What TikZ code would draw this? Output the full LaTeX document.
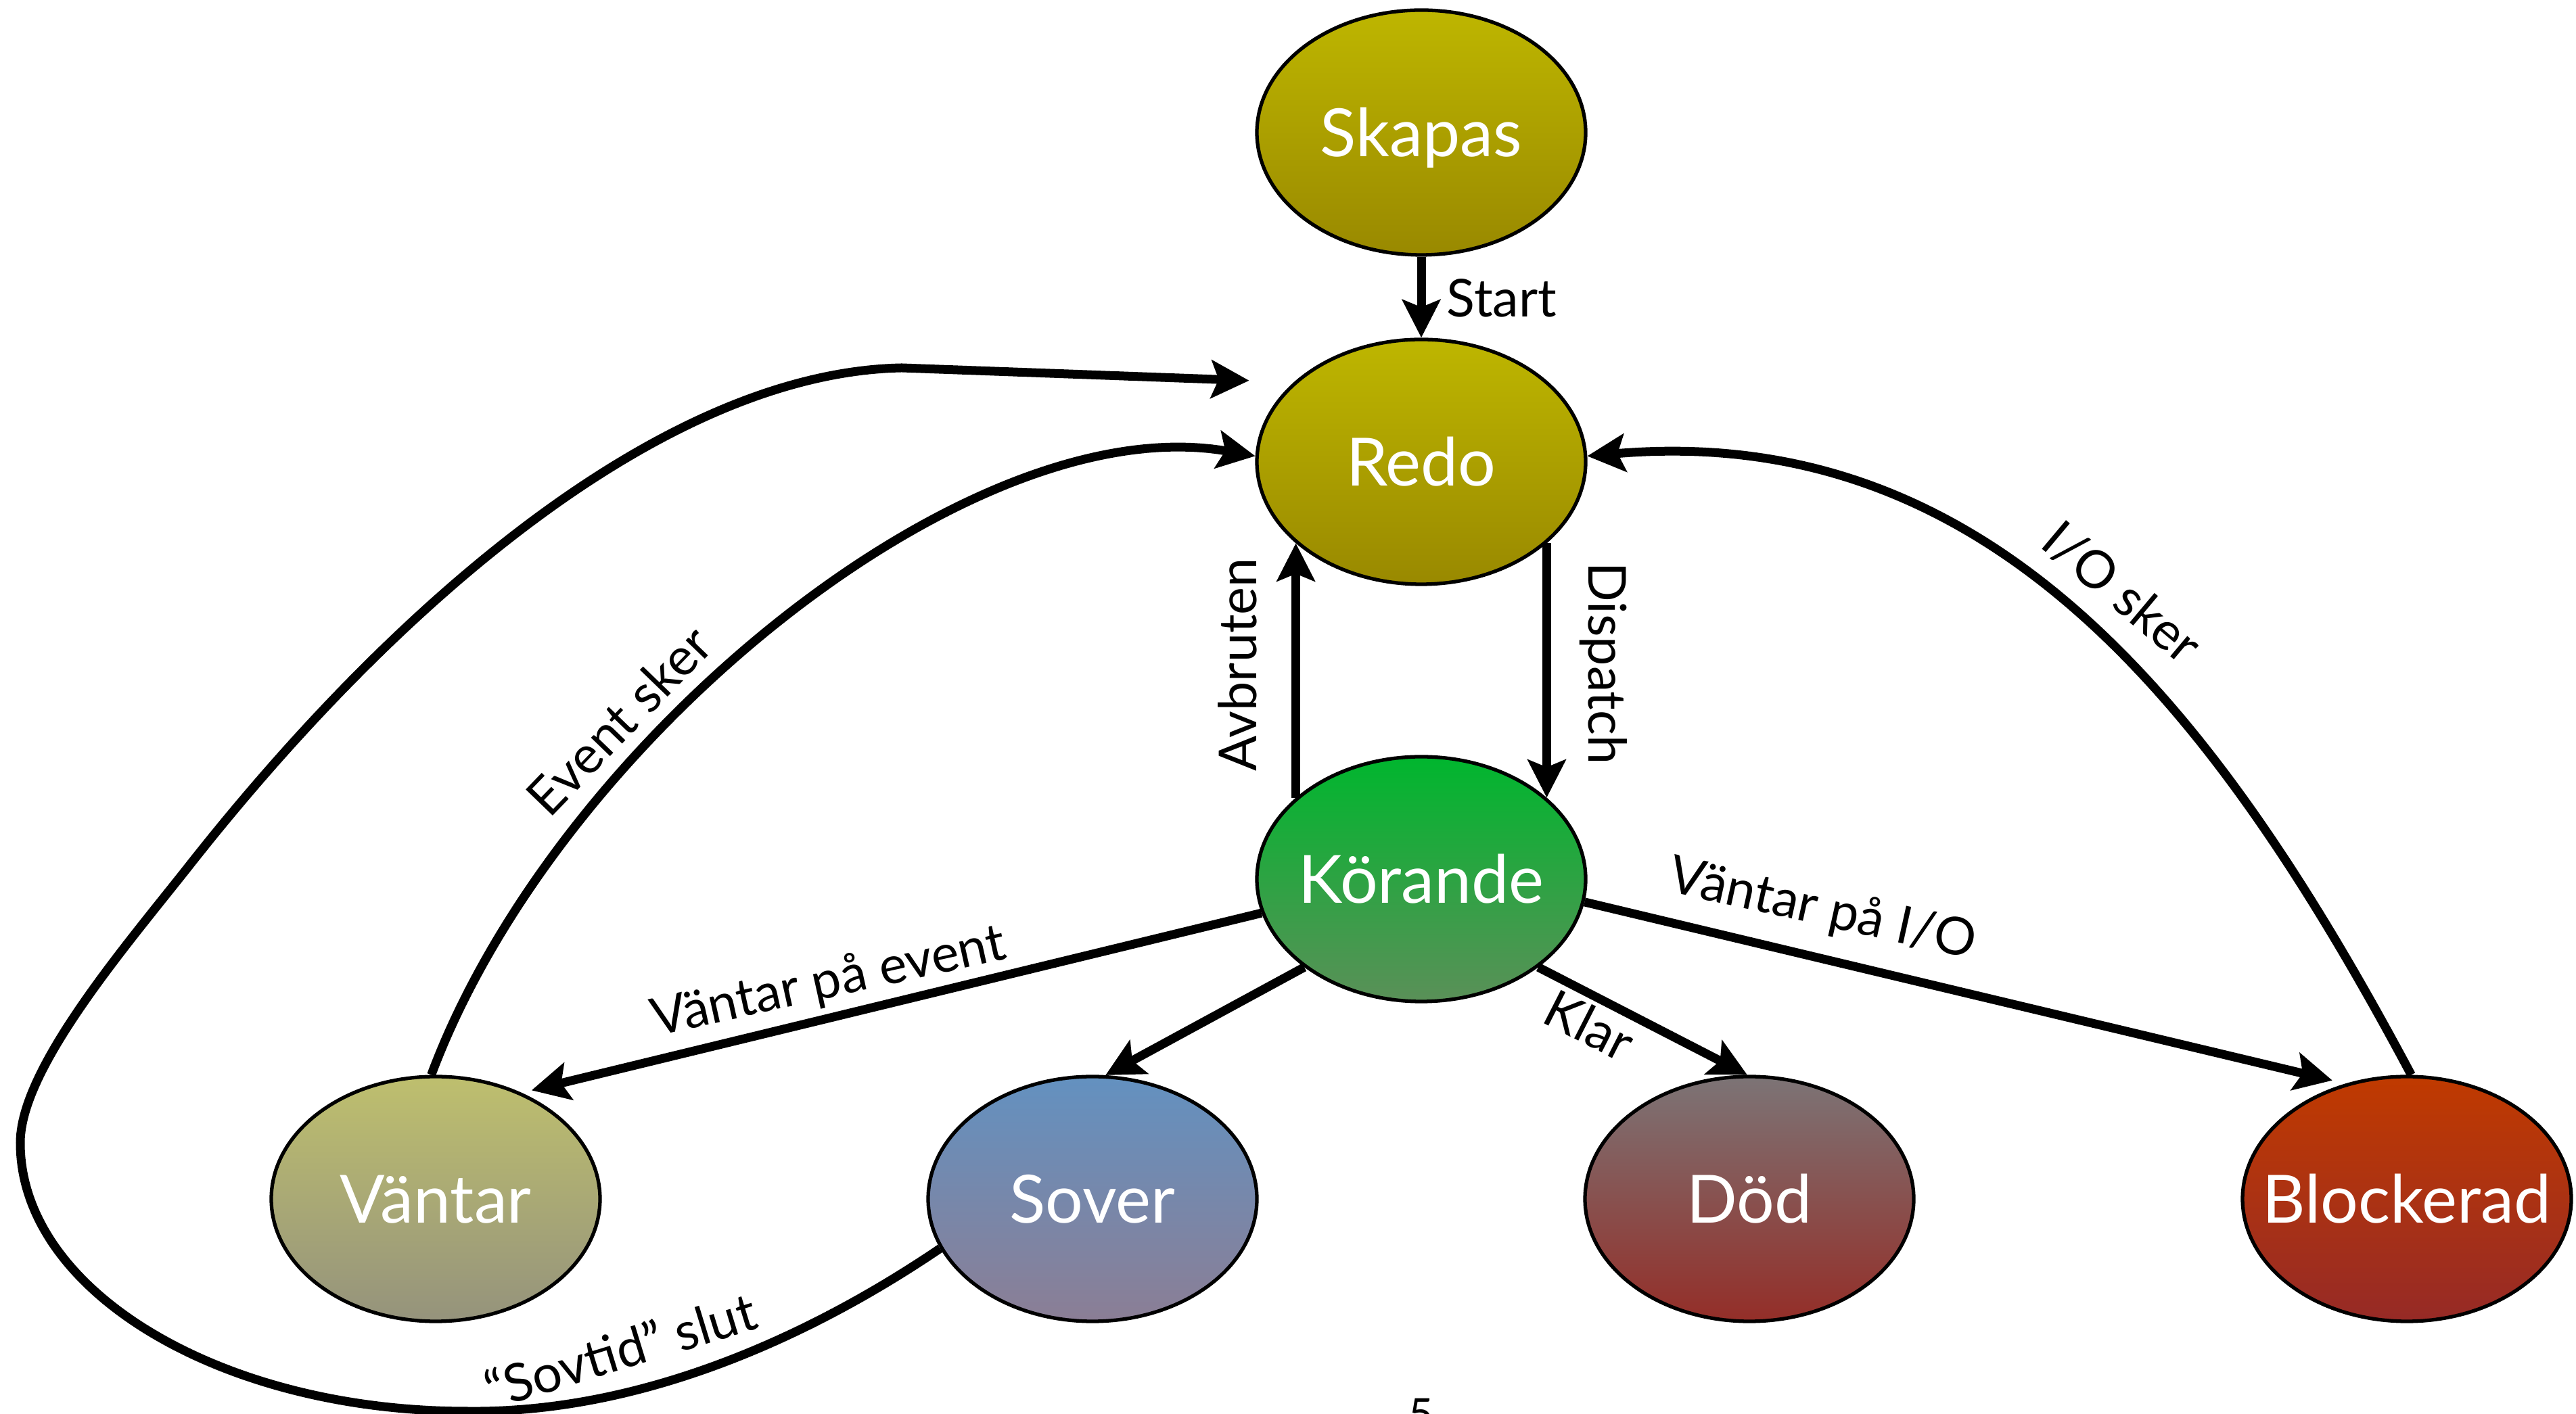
\documentclass[tikz,border=0pt]{standalone}
\usepackage{fontspec}
\setmainfont{Lato}
\usetikzlibrary{arrows.meta,shapes.geometric,calc}
\definecolor{olivetop}{RGB}{190,182,0}
\definecolor{olivebot}{RGB}{153,137,0}
\definecolor{greentop}{RGB}{0,182,46}
\definecolor{greenbot}{RGB}{90,144,88}
\definecolor{vantartop}{RGB}{190,191,110}
\definecolor{vantarbot}{RGB}{149,147,124}
\definecolor{sovertop}{RGB}{99,145,192}
\definecolor{soverbot}{RGB}{139,126,149}
\definecolor{dodtop}{RGB}{124,116,118}
\definecolor{dodbot}{RGB}{148,46,40}
\definecolor{blocktop}{RGB}{192,58,0}
\definecolor{blockbot}{RGB}{150,42,38}
\begin{document}
\begin{tikzpicture}[
  state/.style={ellipse, draw=black, line width=1.5pt, minimum width=4.86cm,
    minimum height=3.62cm, inner sep=0pt, text=white,
    font=\fontsize{28}{32}\selectfont, text height=25pt, text depth=5pt},
  arr/.style={line width=3.7pt, -{Stealth[length=5.6mm,width=5.6mm,inset=1.1mm]}},
  lbl/.style={font=\fontsize{22}{26}\selectfont, inner sep=0pt},
]
\useasboundingbox (0,0) rectangle (38.08,20.90);

% states
\node[state, top color=olivetop, bottom color=olivebot] (skapas) at (21.01,18.94) {\makebox[0pt]{Skapas}};
\node[state, top color=olivetop, bottom color=olivebot] (redo) at (21.01,14.07) {\makebox[0pt]{Redo}};
\node[state, top color=greentop, bottom color=greenbot] (korande) at (21.01,7.90) {\makebox[0pt]{Körande}};
\node[state, top color=vantartop, bottom color=vantarbot] (vantar) at (6.44,3.17) {\makebox[0pt]{Väntar}};
\node[state, top color=sovertop, bottom color=soverbot] (sover) at (16.15,3.17) {\makebox[0pt]{Sover}};
\node[state, top color=dodtop, bottom color=dodbot] (dod) at (25.86,3.17) {\makebox[0pt]{Död}};
\node[state, top color=blocktop, bottom color=blockbot] (block) at (35.58,3.17) {\makebox[0pt]{Blockerad}};

% connectors
\draw[arr] (skapas.south) -- (redo.north);
\draw[arr] (redo.-33) -- (korande.33);
\draw[arr] (korande.147) -- (redo.213);
\draw[arr, shorten >=1.5mm] (korande.192) -- (vantar.51);
\draw[arr] (korande.217) -- (sover.84);
\draw[arr] (korande.-37) -- (dod.91);
\draw[arr, shorten >=2mm] (korande.-8) -- (block.118);
\draw[arr] (block.88) .. controls (32.77,10.40) and (29.46,14.67) .. (redo.2);
\draw[arr] (vantar.92) .. controls (8.20,9.90) and (14.30,14.90) .. (redo.178);
\draw[arr, shorten >=6.6mm] (sover.198)
  .. controls (12.00,1.15) and (9.50,0.00) .. (6.91,0.03)
  .. controls (3.26,0.03) and (0.30,1.81) .. (0.30,4.00)
  .. controls (0.30,5.10) and (1.86,6.91) .. (2.79,8.09)
  .. controls (5.88,12.02) and (9.83,15.39) .. (13.33,15.46)
  -- (redo.148.5);

% labels
\node[lbl] (lstart) at (22.20,16.49) {Start};
\node[lbl, rotate=-90] (ldispatch) at (23.70,11.09) {Dispatch};
\node[lbl, rotate=90] (lavbruten) at (18.29,11.07) {Avbruten};
\node[lbl, rotate=12.5] (levent) at (12.25,6.37) {Väntar på event};
\node[lbl, rotate=-12.5] (lio) at (26.94,7.44) {Väntar på I/O};
\node[lbl, rotate=-27] (lklar) at (23.50,5.74) {Klar};
\node[lbl, rotate=46] (leventsker) at (9.15,10.25) {Event sker};
\node[lbl, rotate=-40] (liosker) at (31.37,12.14) {I/O sker};
\node[lbl, rotate=17] (lsovtid) at (9.17,0.94) {“Sovtid” slut};
\node[font=\fontsize{18}{20}\selectfont, inner sep=0pt, anchor=north] (pagenum) at (21.01,0.23) {5};
\end{tikzpicture}
\end{document}
